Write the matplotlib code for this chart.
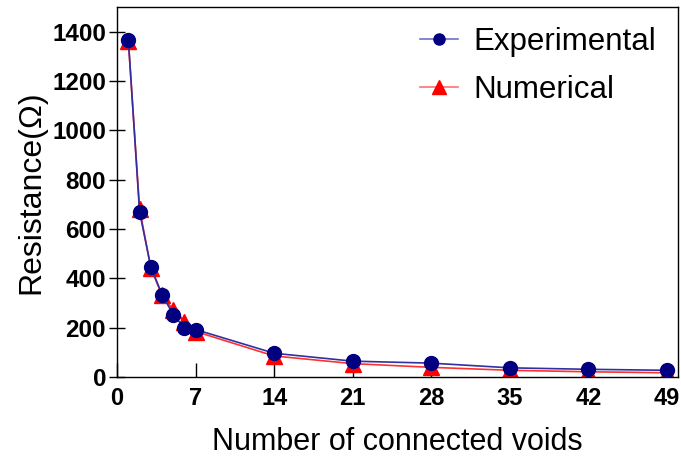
import matplotlib.pyplot as plt

plt.rcParams['font.family'] = ['Liberation Sans', 'DejaVu Sans']

voids = [1, 2, 3, 4, 5, 6, 7, 14, 21, 28, 35, 42, 49]
experimental = [1368, 670, 447, 335, 253, 200, 193, 97, 65, 57, 38, 32, 28]
numerical = [1362, 682, 443, 332, 272, 225, 185, 86, 55, 40, 28, 22, 18]
xticks = [0, 7, 14, 21, 28, 35, 42, 49]
yticks = [0, 200, 400, 600, 800, 1000, 1200, 1400]

fig = plt.figure(figsize=(6.81, 4.68), dpi=100)
ax = fig.add_axes([0.172, 0.194, 0.824, 0.791])

ax.plot(voids, numerical, color='#ff3030', lw=1.2, marker='^', ms=11,
        mfc='red', mec='red', label='Numerical', zorder=2)
ax.plot(voids, experimental, color='#3030a0', lw=1.2, marker='o', ms=10,
        mfc='#000080', mec='#000080', label='Experimental', zorder=3)

ax.set_xlim(0, 50)
ax.set_ylim(0, 1500)
ax.set_xticks(xticks)
ax.set_yticks(yticks)
ax.tick_params(axis='x', direction='in', length=10, width=1, pad=7, labelsize=17)
ax.tick_params(axis='y', direction='inout', length=12, width=1, pad=2, labelsize=17.5)
for lab in ax.get_xticklabels() + ax.get_yticklabels():
    lab.set_fontweight('bold')
for s in ax.spines.values():
    s.set_linewidth(1.0)

ax.set_xlabel('Number of connected voids', fontsize=22, labelpad=12)
ax.set_ylabel('Resistance(\u03a9)', fontsize=23, labelpad=4)

h, l = ax.get_legend_handles_labels()
leg = ax.legend(h[::-1], l[::-1], loc='upper left',
                bbox_to_anchor=(420 / 681, (468 - 27) / 468),
                bbox_transform=fig.transFigure,
                borderaxespad=0, borderpad=0,
                frameon=False, fontsize=22.5, handlelength=1.2, labelspacing=0.58,
                handletextpad=0.5)
lines = leg.get_lines()
lines[0].set_color('#7070d0')
lines[0].set_markersize(8)
lines[1].set_color('#ff7070')
lines[1].set_markersize(10)

fig.savefig('out.png', dpi=100)
